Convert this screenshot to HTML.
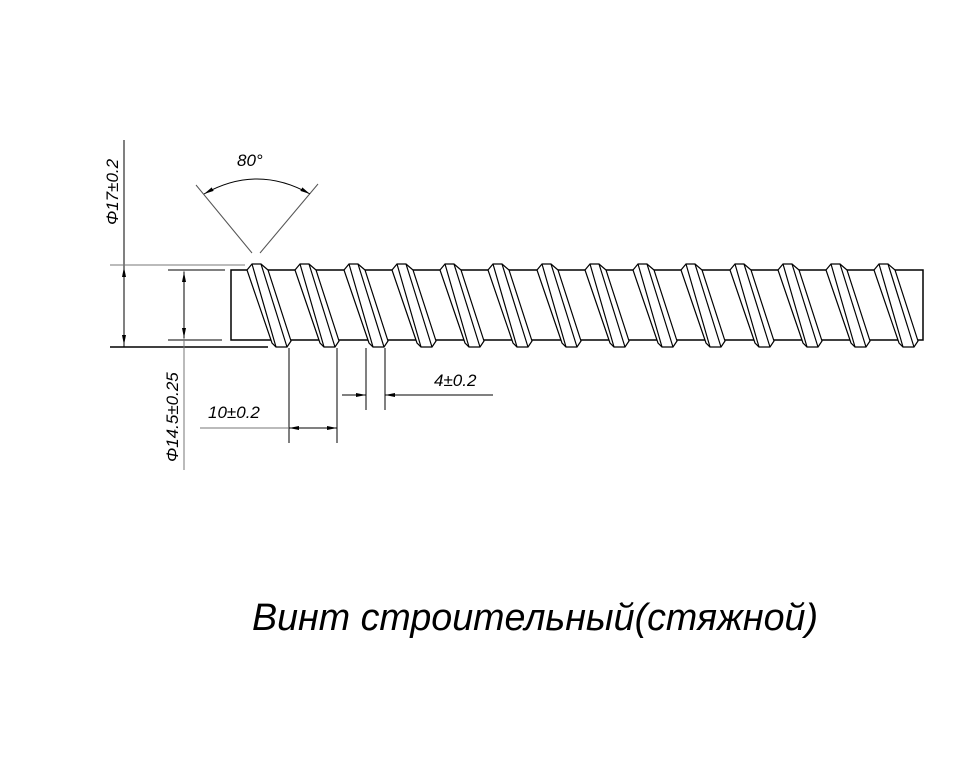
<!DOCTYPE html>
<html><head><meta charset="utf-8"><style>html,body{margin:0;padding:0;background:#fff}svg{display:block}</style></head>
<body>
<svg width="960" height="768" viewBox="0 0 960 768" xmlns="http://www.w3.org/2000/svg" xmlns:xlink="http://www.w3.org/1999/xlink" font-family="Liberation Sans, DejaVu Sans, sans-serif">
<defs>
<marker id="a" viewBox="0 0 10 6" refX="10" refY="3" markerWidth="10" markerHeight="6" orient="auto-start-reverse" markerUnits="userSpaceOnUse"><path d="M0,1 L10,3 L0,5 z" fill="#000"/></marker>
<g id="t" stroke="#000" stroke-width="1.2" fill="#fff">
<polygon points="247,270 252,264 261,264 268,270 291,341 287,347 276,347 272,343"/>
<line x1="252" y1="264" x2="276" y2="347"/>
<line x1="261" y1="264" x2="287" y2="347"/>
</g>
</defs>
<g stroke="#000" stroke-width="1" fill="none">
<rect x="231" y="270" width="692" height="70" stroke-width="1.5" fill="#fff"/>
</g>
<use href="#t" xlink:href="#t" x="0"/>
<use href="#t" xlink:href="#t" x="48"/>
<use href="#t" xlink:href="#t" x="97"/>
<use href="#t" xlink:href="#t" x="145"/>
<use href="#t" xlink:href="#t" x="193"/>
<use href="#t" xlink:href="#t" x="241"/>
<use href="#t" xlink:href="#t" x="290"/>
<use href="#t" xlink:href="#t" x="338"/>
<use href="#t" xlink:href="#t" x="386"/>
<use href="#t" xlink:href="#t" x="434"/>
<use href="#t" xlink:href="#t" x="483"/>
<use href="#t" xlink:href="#t" x="531"/>
<use href="#t" xlink:href="#t" x="579"/>
<use href="#t" xlink:href="#t" x="627"/>
<g stroke="#000" stroke-width="1" fill="none">
<line x1="124" y1="140" x2="124" y2="347"/>
<line x1="110" y1="265" x2="245" y2="265" stroke="#777"/>
<line x1="110" y1="347" x2="268" y2="347" stroke-width="1.5"/>
<line x1="124" y1="267" x2="124" y2="345" marker-start="url(#a)" marker-end="url(#a)"/>
<line x1="168" y1="270" x2="225" y2="270"/>
<line x1="168" y1="340" x2="222" y2="340"/>
<line x1="184" y1="270" x2="184" y2="470" stroke="#777"/>
<line x1="184" y1="272" x2="184" y2="338" marker-start="url(#a)" marker-end="url(#a)"/>
<line x1="252" y1="253" x2="196" y2="185" stroke="#555"/>
<line x1="260" y1="253" x2="318" y2="184" stroke="#555"/>
<path d="M204,194 Q257,164 310,194" marker-start="url(#a)" marker-end="url(#a)"/>
<line x1="289" y1="348" x2="289" y2="443"/>
<line x1="337" y1="348" x2="337" y2="443"/>
<line x1="200" y1="428" x2="289" y2="428" stroke="#777"/>
<line x1="289" y1="428" x2="337" y2="428" marker-start="url(#a)" marker-end="url(#a)"/>
<line x1="366" y1="348" x2="366" y2="410"/>
<line x1="385" y1="348" x2="385" y2="410"/>
<line x1="342" y1="395" x2="366" y2="395" marker-end="url(#a)"/>
<line x1="493" y1="395" x2="385" y2="395" marker-end="url(#a)"/>
</g>
<g font-style="italic" font-size="17" fill="#000">
<text x="237" y="166">80°</text>
<text x="208" y="418">10±0.2</text>
<text x="434" y="386">4±0.2</text>
<text transform="translate(118,225) rotate(-90)">Φ17±0.2</text>
<text transform="translate(178,462) rotate(-90)">Φ14.5±0.25</text>
<text x="252" y="630" font-size="38" textLength="566" lengthAdjust="spacingAndGlyphs">Винт строительный(стяжной)</text>
</g>
</svg>
</body></html>
